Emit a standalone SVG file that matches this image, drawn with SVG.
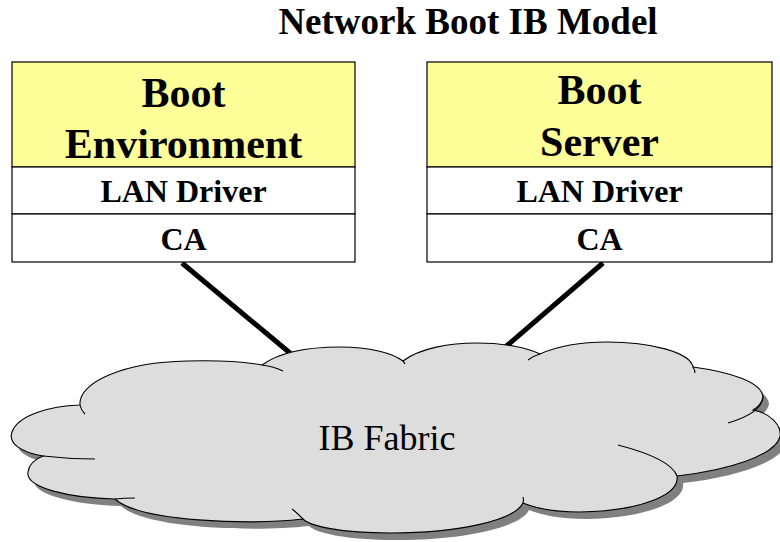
<svg xmlns="http://www.w3.org/2000/svg" width="780" height="542" viewBox="0 0 780 542">
<style>
.box{stroke:#000;stroke-width:1.2}
.top{fill:#ffff99}
.row{fill:#fff}
.b{font-family:"Liberation Serif","Times New Roman",serif;font-weight:bold;text-anchor:middle;fill:#000}
.big{font-size:42px}
.mid{font-size:32px}
.conn{stroke:#000;stroke-width:5;fill:none}
.stub{fill:none;stroke:#000;stroke-width:1.1}
</style>
<defs>
<path id="cloud" d="M 80,405 C 78,382 125,362 187,361 C 220,360 245,362 262,365 C 280,352 305,347 340,347 C 370,347 392,353 403,361 C 420,348 450,343 477,343 C 505,343 528,348 540,354 C 560,345 585,342 607,342 C 650,342 690,352 693,367 C 730,372 762,382 763,397 C 762,402 758,407 753,410 C 770,413 782,425 780,437 C 775,455 730,470 677,476 C 680,495 640,511 580,512 C 555,512 535,508 523,503 C 515,520 460,533 390,533 C 340,533 310,526 303,519 C 250,525 140,522 115,499 C 70,498 25,488 28,472 C 29,465 35,459 43,456 C 20,452 8,443 12,432 C 18,415 50,406 80,405 Z"/>
</defs>
<rect width="780" height="542" fill="#fff"/>
<text class="b" x="468" y="34" style="font-size:37px">Network Boot IB Model</text>

<g id="connectors">
<line class="conn" x1="182" y1="263" x2="296" y2="358"/>
<line class="conn" x1="603" y1="263" x2="503" y2="349"/>
</g>

<g id="ib-fabric">
<use href="#cloud" transform="translate(6,7)" fill="#808080"/>
<use href="#cloud" fill="#dddddd" stroke="#000" stroke-width="1.1"/>
<path class="stub" d="M 80,405 Q 81,410 85,414"/>
<path class="stub" d="M 262,365 C 270,366 277,368 283,371"/>
<path class="stub" d="M 403,361 Q 404,362 405,364"/>
<path class="stub" d="M 528,360 Q 533,356 540,354"/>
<path class="stub" d="M 693,367 Q 695,370 695,373"/>
<path class="stub" d="M 763,397 C 762,410 745,418 728,423"/>
<path class="stub" d="M 618,445 C 645,452 672,462 677,476"/>
<path class="stub" d="M 523,497 Q 524,500 523,503"/>
<path class="stub" d="M 303,519 C 299,515 296,512 292,509"/>
<path class="stub" d="M 115,499 Q 125,498 135,498"/>
<path class="stub" d="M 43,456 C 60,458 80,459 95,459"/>
<text x="387" y="450" style="font-family:'Liberation Serif','Times New Roman',serif;font-size:36px;text-anchor:middle;fill:#000">IB Fabric</text>
</g>

<g id="boot-environment">
<rect class="box top" x="12" y="62" width="343" height="105"/>
<rect class="box row" x="12" y="167" width="343" height="47"/>
<rect class="box row" x="12" y="214" width="343" height="48"/>
<text class="b big" x="183.5" y="107">Boot</text>
<text class="b big" x="183.5" y="158">Environment</text>
<text class="b mid" x="183.5" y="202">LAN Driver</text>
<text class="b mid" x="183.5" y="250">CA</text>
</g>

<g id="boot-server">
<rect class="box top" x="427" y="62" width="345" height="105"/>
<rect class="box row" x="427" y="167" width="345" height="47"/>
<rect class="box row" x="427" y="214" width="345" height="48"/>
<text class="b big" x="599.5" y="104">Boot</text>
<text class="b big" x="599.5" y="156">Server</text>
<text class="b mid" x="599.5" y="202">LAN Driver</text>
<text class="b mid" x="599.5" y="250">CA</text>
</g>
</svg>
